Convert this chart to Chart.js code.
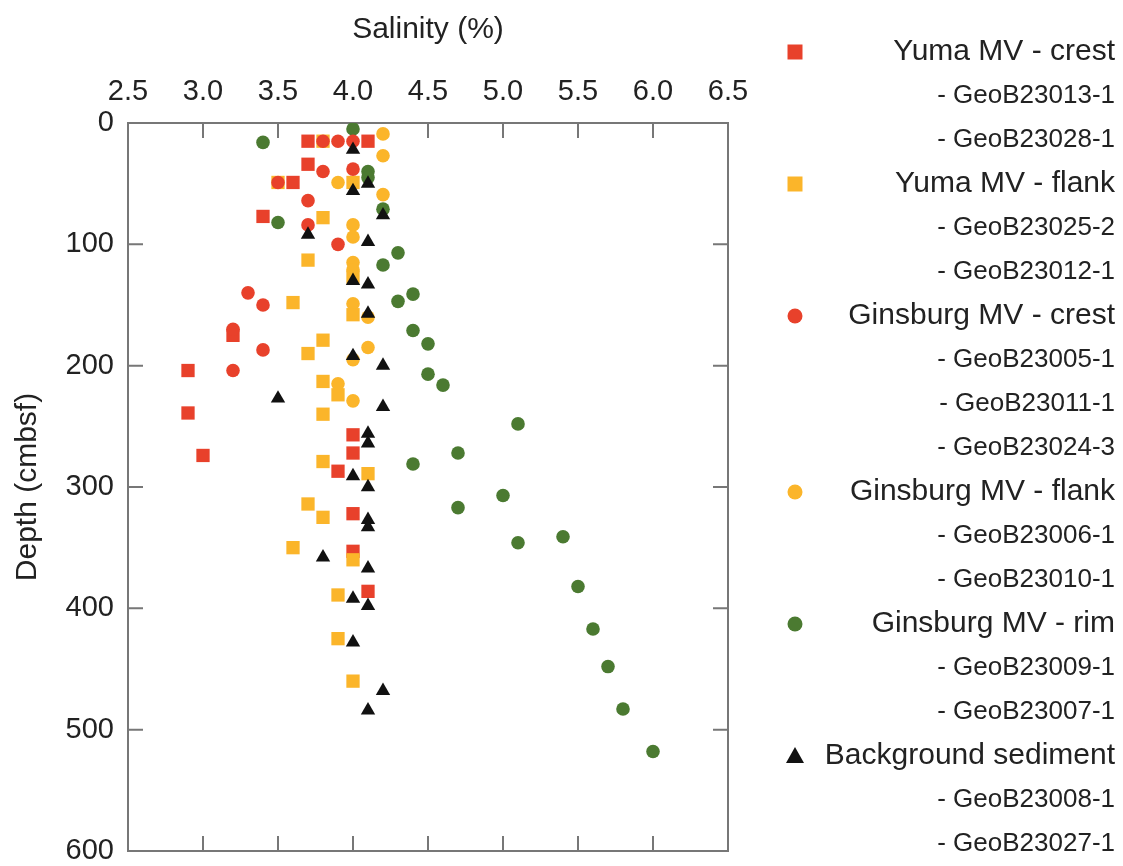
<!DOCTYPE html>
<html>
<head>
<meta charset="utf-8">
<script src="https://cdn.jsdelivr.net/npm/chart.js@4/dist/chart.umd.min.js"></script>
<style>
  html, body { margin: 0; padding: 0; background: #fff; }
  #wrap { width: 1123px; height: 866px; }
</style>
</head>
<body>
<div id="wrap"><canvas id="salChart" width="1123" height="866"></canvas></div>
<script>
// salinity (%) and depth (cmbsf) for each site group
const yumaCrestSal = [3.7, 4.1, 3.7, 3.6, 3.4, 3.2, 2.9, 2.9, 4.0, 4.0, 3.0, 3.9, 4.0, 4.0, 4.1];
const yumaCrestDepth = [15, 15, 34, 49, 77, 175, 204, 239, 257, 272, 274, 287, 322, 353, 386];

const yumaFlankSal = [3.8, 3.5, 4.0, 3.8, 3.7, 4.0, 3.6, 4.0, 3.8, 3.7, 3.8, 3.9, 3.8, 3.8, 4.1, 3.7, 3.8, 3.6, 4.0, 3.9, 3.9, 4.0];
const yumaFlankDepth = [15, 49, 49, 78, 113, 127, 148, 158, 179, 190, 213, 224, 240, 279, 289, 314, 325, 350, 360, 389, 425, 460];

const ginsCrestSal = [3.8, 3.9, 4.0, 4.0, 3.8, 3.5, 3.7, 3.7, 3.9, 3.3, 3.4, 3.2, 3.4, 3.2];
const ginsCrestDepth = [15, 15, 15, 38, 40, 49, 64, 84, 100, 140, 150, 170, 187, 204];

const ginsFlankSal = [4.2, 4.2, 3.9, 4.2, 4.0, 4.0, 4.0, 4.0, 4.0, 4.1, 4.1, 4.0, 3.9, 4.0];
const ginsFlankDepth = [9, 27, 49, 59, 84, 94, 115, 121, 149, 160, 185, 195, 215, 229];

const ginsRimSal = [4.0, 3.4, 4.1, 4.1, 4.2, 3.5, 4.3, 4.2, 4.4, 4.3, 4.4, 4.5, 4.5, 4.6, 5.1, 4.7, 4.4, 5.0, 4.7, 5.4, 5.1, 5.5, 5.6, 5.7, 5.8, 6.0];
const ginsRimDepth = [5, 16, 40, 45, 71, 82, 107, 117, 141, 147, 171, 182, 207, 216, 248, 272, 281, 307, 317, 341, 346, 382, 417, 448, 483, 518];

const backgroundSal = [4.0, 4.1, 4.0, 4.2, 3.7, 4.1, 4.0, 4.1, 4.1, 4.0, 4.2, 3.5, 4.2, 4.1, 4.1, 4.0, 4.1, 4.1, 4.1, 3.8, 4.1, 4.0, 4.1, 4.0, 4.2, 4.1];
const backgroundDepth = [22, 50, 56, 76, 92, 98, 130, 133, 157, 192, 200, 227, 234, 256, 264, 291, 300, 327, 333, 358, 367, 392, 398, 428, 468, 484];

// legend groups and their cores
const groupNames = ["Yuma MV - crest", "Yuma MV - flank", "Ginsburg MV - crest", "Ginsburg MV - flank", "Ginsburg MV - rim", "Background sediment"];
const groupCores = [
  ["GeoB23013-1", "GeoB23028-1"],
  ["GeoB23025-2", "GeoB23012-1"],
  ["GeoB23005-1", "GeoB23011-1", "GeoB23024-3"],
  ["GeoB23006-1", "GeoB23010-1"],
  ["GeoB23009-1", "GeoB23007-1"],
  ["GeoB23008-1", "GeoB23027-1"]
];

const salTicks = [2.5, 3.0, 3.5, 4.0, 4.5, 5.0, 5.5, 6.0, 6.5];
const depthTicks = [0, 100, 200, 300, 400, 500, 600];

const RED = "#e8412b";
const ORANGE = "#fbb52a";
const GREEN = "#4b7a31";
const BLACK = "#111111";
const FONT = "'Liberation Sans', Arial, sans-serif";
const AXIS = "#777777";

const pts = (xs, ys) => xs.map((x, i) => ({ x: x, y: ys[i] }));

const makeSet = (label, xs, ys, color, style, radius, order) => ({
  label: label,
  data: pts(xs, ys),
  backgroundColor: color,
  borderColor: color,
  borderWidth: 0,
  pointStyle: style,
  pointRadius: radius,
  pointHoverRadius: radius,
  order: order
});

const datasets = [
  makeSet(groupNames[0], yumaCrestSal, yumaCrestDepth, RED, "rect", 9.4, 3),
  makeSet(groupNames[1], yumaFlankSal, yumaFlankDepth, ORANGE, "rect", 9.4, 2),
  makeSet(groupNames[2], ginsCrestSal, ginsCrestDepth, RED, "circle", 6.8, 1),
  makeSet(groupNames[3], ginsFlankSal, ginsFlankDepth, ORANGE, "circle", 6.8, 4),
  makeSet(groupNames[4], ginsRimSal, ginsRimDepth, GREEN, "circle", 6.8, 5),
  makeSet(groupNames[5], backgroundSal, backgroundDepth, BLACK, "triangle", 8.3, 0)
];

// box around the plot with tick marks pointing inwards
const framePlugin = {
  id: "frame",
  beforeDatasetsDraw(chart) {
    const { ctx, chartArea: a } = chart;
    const xs = chart.scales.x, ys = chart.scales.y;
    const len = 15;
    ctx.save();
    ctx.strokeStyle = AXIS;
    ctx.lineWidth = 2;
    ctx.strokeRect(a.left, a.top, a.right - a.left, a.bottom - a.top);
    ctx.beginPath();
    salTicks.forEach((v) => {
      const px = xs.getPixelForValue(v);
      ctx.moveTo(px, a.top); ctx.lineTo(px, a.top + len);
      ctx.moveTo(px, a.bottom); ctx.lineTo(px, a.bottom - len);
    });
    depthTicks.forEach((v) => {
      const py = ys.getPixelForValue(v);
      ctx.moveTo(a.left, py); ctx.lineTo(a.left + len, py);
      ctx.moveTo(a.right, py); ctx.lineTo(a.right - len, py);
    });
    ctx.stroke();
    ctx.restore();
  }
};

// legend on the right: symbol at left, names right-aligned
const sideLegend = {
  id: "sideLegend",
  afterDraw(chart) {
    const ctx = chart.ctx;
    const markX = 795, textRight = 1115, rowY0 = 52, rowStep = 44;
    let row = 0;
    ctx.save();
    ctx.fillStyle = "#222";
    ctx.textAlign = "right";
    ctx.textBaseline = "middle";
    chart.data.datasets.forEach((ds, i) => {
      const y = rowY0 + rowStep * row;
      ctx.fillStyle = ds.backgroundColor;
      ctx.beginPath();
      if (ds.pointStyle === "rect") {
        ctx.rect(markX - 7.5, y - 7.5, 15, 15);
      } else if (ds.pointStyle === "circle") {
        ctx.arc(markX, y, 7.5, 0, Math.PI * 2);
      } else {
        ctx.moveTo(markX, y - 9);
        ctx.lineTo(markX + 9, y + 7);
        ctx.lineTo(markX - 9, y + 7);
        ctx.closePath();
      }
      ctx.fill();
      ctx.fillStyle = "#222";
      ctx.font = "30px " + FONT;
      ctx.fillText(ds.label, textRight, y);
      row++;
      ctx.font = "26px " + FONT;
      groupCores[i].forEach((core) => {
        ctx.fillText("- " + core, textRight, rowY0 + rowStep * row);
        row++;
      });
    });
    ctx.restore();
  }
};

const config = {
  type: "scatter",
  data: { datasets: datasets },
  options: {
    responsive: false,
    animation: false,
    layout: { padding: { left: 0, top: 0, right: 395, bottom: 15 } },
    plugins: {
      legend: { display: false },
      tooltip: { enabled: false }
    },
    scales: {
      x: {
        type: "linear",
        position: "top",
        min: 2.5,
        max: 6.5,
        afterBuildTicks: (s) => { s.ticks = salTicks.map((v) => ({ value: v })); },
        afterFit: (s) => {
          s.height = 123;
          s.paddingLeft = 0;
          s.paddingRight = 0;
        },
        ticks: {
          callback: (v) => Number(v).toFixed(1),
          font: { size: 29, family: FONT },
          color: "#222",
          padding: 14,
          maxRotation: 0
        },
        grid: { drawOnChartArea: false, drawTicks: false },
        border: { display: false },
        title: {
          display: true,
          text: "Salinity (%)",
          font: { size: 30, family: FONT },
          color: "#222",
          padding: { top: 12, bottom: 0 }
        }
      },
      y: {
        type: "linear",
        reverse: true,
        min: 0,
        max: 600,
        afterBuildTicks: (s) => { s.ticks = depthTicks.map((v) => ({ value: v })); },
        afterFit: (s) => {
          s.width = 128;
          s.paddingTop = 0;
          s.paddingBottom = 0;
        },
        ticks: {
          font: { size: 29, family: FONT },
          color: "#222",
          padding: 14
        },
        grid: { drawOnChartArea: false, drawTicks: false },
        border: { display: false },
        title: {
          display: true,
          text: "Depth (cmbsf)",
          font: { size: 30, family: FONT },
          color: "#222",
          padding: { top: 10, bottom: 0 }
        }
      }
    }
  },
  plugins: [framePlugin, sideLegend]
};

const salChart = new Chart(document.getElementById("salChart").getContext("2d"), config);
</script>
</body>
</html>
